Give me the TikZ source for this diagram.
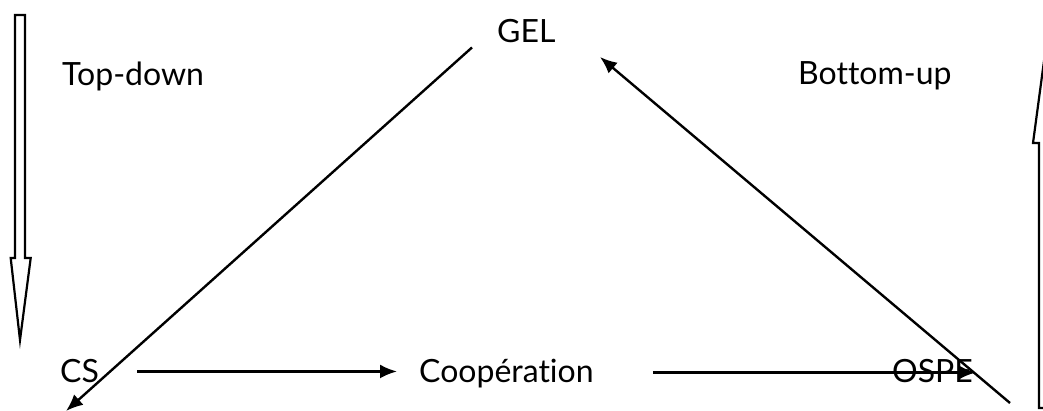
\documentclass[tikz,border=0pt]{standalone}
\usepackage{fontspec}
\setmainfont[Ligatures=NoCommon]{Lato}
\usetikzlibrary{arrows.meta}

\begin{document}
\begin{tikzpicture}[x=1pt,y=-1pt,
  every node/.style={font=\fontsize{32}{38}\selectfont, inner sep=0pt, anchor=base west},
  link/.style={line width=2.4pt, -{Latex[length=17pt,width=14pt]}},
  hollow/.style={line width=2.2pt, line join=miter}]
\useasboundingbox (0,0) rectangle (1043,410);
\node (GEL) at (497,42) {GEL};
\node (topdown) at (62,85) {Top-down};
\node (bottomup) at (798,84) {Bottom-up};
\node (CS) at (60,382) {CS};
\node (coop) at (419,382) {Coopération};
\node (OSPE) at (892,382) {OSPE};
\coordinate (csfoot) at (66,411);
\coordinate (ospefoot) at (1010,403);
\coordinate (geltip) at (600,57);
\draw[hollow] (15,15) -- ++(10,0) -- ++(0,243) -- ++(5.7,0) -- (20,340) -- (10.7,258) -- ++(4.3,0) -- cycle;
\draw[hollow] (1039,408) -- ++(0,-265) -- ++(-6,0) -- (1044,61) -- (1055,143) -- ++(-6,0) -- ++(0,265) -- cycle;
\draw[link] (GEL.south west) ++(-25,5) -- (csfoot);
\draw[link] (ospefoot) -- (geltip);
\draw[link, shorten <=38pt, shorten >=22pt] ([yshift=8pt]CS.mid east) -- ([yshift=8pt]coop.mid west);
\draw[link, shorten <=59pt, shorten >=-3pt] ([yshift=7pt]coop.mid east) -- ([yshift=7pt]OSPE.mid east);
\end{tikzpicture}
\end{document}
